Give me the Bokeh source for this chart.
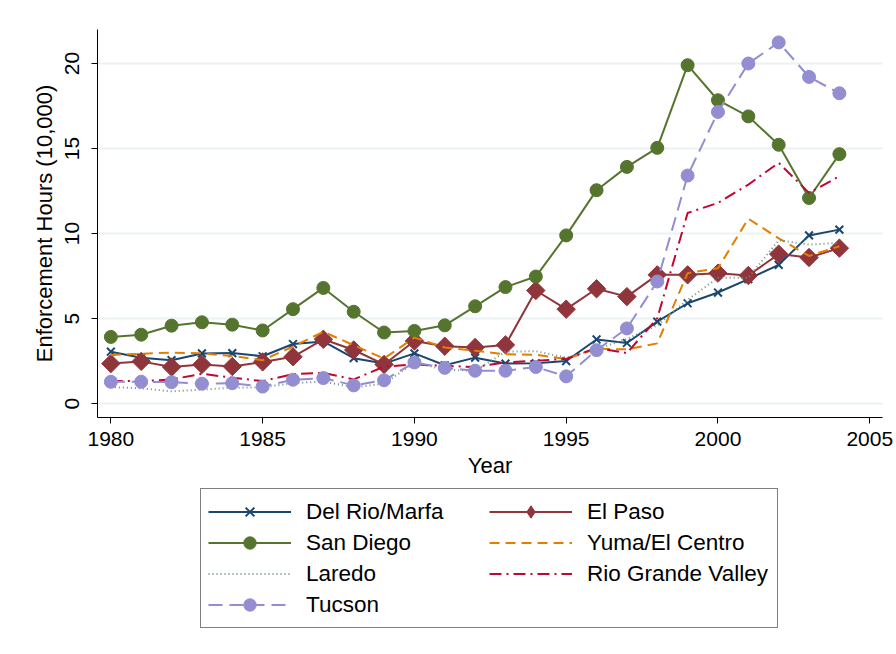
import numpy as np
from bokeh.plotting import figure
from bokeh.layouts import column
from bokeh.models import Legend, LegendItem, FixedTicker, Range1d
from bokeh.embed import file_html
from bokeh.resources import INLINE

# Enforcement hours by Border Patrol sector, in units of 10,000 hours
years = list(range(1980, 2005))

del_rio = [3.05, 2.70, 2.55, 2.95, 2.97, 2.78, 3.50, 3.65, 2.67, 2.35, 2.95, 2.25, 2.70,
           2.35, 2.37, 2.50, 3.77, 3.56, 4.82, 5.90, 6.53, 7.32, 8.16, 9.89, 10.23]
el_paso = [2.35, 2.48, 2.15, 2.30, 2.18, 2.45, 2.75, 3.78, 3.15, 2.30, 3.68, 3.37, 3.30,
           3.45, 6.65, 5.55, 6.75, 6.29, 7.57, 7.57, 7.67, 7.53, 8.79, 8.59, 9.14]
san_diego = [3.92, 4.05, 4.58, 4.78, 4.64, 4.30, 5.55, 6.80, 5.40, 4.18, 4.27, 4.60, 5.72,
             6.85, 7.47, 9.89, 12.55, 13.92, 15.04, 19.90, 17.84, 16.89, 15.22, 12.09, 14.67]
yuma = [2.86, 2.93, 3.00, 2.95, 2.80, 2.55, 3.35, 4.22, 3.43, 2.65, 3.88, 3.30, 3.10,
        2.90, 2.87, 2.62, 3.22, 3.19, 3.54, 7.67, 7.96, 10.87, 9.72, 8.68, 9.25]
laredo = [0.97, 0.90, 0.72, 0.82, 0.93, 0.95, 1.20, 1.30, 0.95, 1.17, 2.40, 2.00, 1.92,
          3.05, 3.08, 2.70, 3.20, 3.80, 4.60, 6.10, 7.40, 7.40, 9.60, 9.35, 9.45]
rio_grande = [1.32, 1.32, 1.42, 1.75, 1.52, 1.32, 1.73, 1.80, 1.42, 2.17, 2.30, 2.22, 2.15,
              2.42, 2.52, 2.63, 3.27, 2.97, 5.01, 11.21, 11.80, 12.88, 14.16, 12.39, 13.37]
tucson = [1.28, 1.28, 1.26, 1.17, 1.20, 1.00, 1.40, 1.50, 1.07, 1.37, 2.42, 2.10, 1.93,
          1.93, 2.15, 1.60, 3.14, 4.42, 7.18, 13.41, 17.15, 20.00, 21.24, 19.21, 18.25]

x_ticks = [1980, 1985, 1990, 1995, 2000, 2005]
y_ticks = [0, 5, 10, 15, 20]

FONT = "Liberation Sans"
LW = 2

# (label, values, colour, dash, marker, marker size)
series = [
    ("Del Rio/Marfa", del_rio, "#1a476f", "solid", "x", 11),
    ("El Paso", el_paso, "#90353b", "solid", "diamond", 18),
    ("San Diego", san_diego, "#55752f", "solid", "circle", 13),
    ("Yuma/El Centro", yuma, "#e37e00", "10 6", None, 0),
    ("Laredo", laredo, "#6e8e84", "1 3", None, 0),
    ("Rio Grande Valley", rio_grande, "#c10534", "12 5 2 5", None, 0),
    ("Tucson", tucson, "#938dd2", "14 7", "circle", 13),
]


def draw_series(fig, label, vals, color, dash, marker, size, visible=True):
    rs = [fig.line(years, vals, line_color=color, line_width=LW, line_dash=dash,
                   visible=visible)]
    if marker == "x":
        rs.append(fig.scatter(years, vals, marker="x", size=size, line_color=color,
                              line_width=2, visible=visible))
    elif marker is not None:
        rs.append(fig.scatter(years, vals, marker=marker, size=size, fill_color=color,
                              line_color=color, visible=visible))
    return rs


# ---- main chart ----
p = figure(width=896, height=484, output_backend="svg", toolbar_location=None,
           x_range=Range1d(1979.56, 2005.42), y_range=Range1d(-0.82, 22.0),
           min_border_left=97, min_border_right=14, min_border_top=29,
           min_border_bottom=67)
p.outline_line_color = None
p.background_fill_color = "white"
p.border_fill_color = "white"

p.xaxis.ticker = FixedTicker(ticks=x_ticks)
p.yaxis.ticker = FixedTicker(ticks=y_ticks)
for ax in (p.xaxis[0], p.yaxis[0]):
    ax.axis_line_color = "black"
    ax.axis_line_width = 1
    ax.major_tick_line_color = "black"
    ax.major_tick_out = 6
    ax.major_tick_in = 0
    ax.minor_tick_line_color = None
    ax.major_label_text_font = FONT
    ax.major_label_text_font_size = "21px"
    ax.major_label_text_color = "black"
    ax.axis_label_text_font = FONT
    ax.axis_label_text_font_size = "22px"
    ax.axis_label_text_font_style = "normal"
    ax.axis_label_text_color = "black"

p.xaxis.axis_label = "Year"
p.xaxis.major_label_standoff = 8
p.xaxis.axis_label_standoff = 4
p.yaxis.axis_label = "Enforcement Hours (10,000)"
p.yaxis.major_label_orientation = "vertical"
p.yaxis.major_label_standoff = 12
p.yaxis.axis_label_standoff = 6

p.xgrid.grid_line_color = None
p.ygrid.grid_line_color = "#eaf2f3"
p.ygrid.grid_line_width = 2

for label, vals, color, dash, marker, size in series:
    if marker == "diamond":
        # diamonds drawn as squares turned 45 degrees
        p.line(years, vals, line_color=color, line_width=LW, line_dash=dash)
        p.scatter(years, vals, marker="square", size=13, angle=np.pi / 4,
                  fill_color=color, line_color=color)
    else:
        draw_series(p, label, vals, color, dash, marker, size)

# ---- key panel beneath the chart (its frame is aligned with the chart's frame) ----
k = figure(width=896, height=170, output_backend="svg", toolbar_location=None,
           x_range=Range1d(0, 1), y_range=Range1d(0, 1),
           x_axis_type=None, y_axis_type=None,
           min_border_left=0, min_border_right=0, min_border_top=0, min_border_bottom=0)
k.outline_line_color = None
k.xgrid.grid_line_color = None
k.ygrid.grid_line_color = None
k.background_fill_color = "white"
k.border_fill_color = "white"

items = []
for label, vals, color, dash, marker, size in series:
    rs = draw_series(k, label, vals, color, dash, marker, size, visible=False)
    items.append(LegendItem(label=label, renderers=rs))

legend = Legend(items=items, orientation="horizontal", ncols=2, location=(103, 26),
                border_line_color="black", border_line_width=1,
                background_fill_color="white", padding=7, spacing=0,
                glyph_width=83, glyph_height=31, label_height=25, label_width=183,
                label_standoff=15, label_text_font=FONT, label_text_font_size="22.5px",
                label_text_color="black", margin=0, click_policy="none")
k.add_layout(legend, "center")

layout = column(p, k, spacing=0)
open("out.html", "w").write(file_html(layout, INLINE))
